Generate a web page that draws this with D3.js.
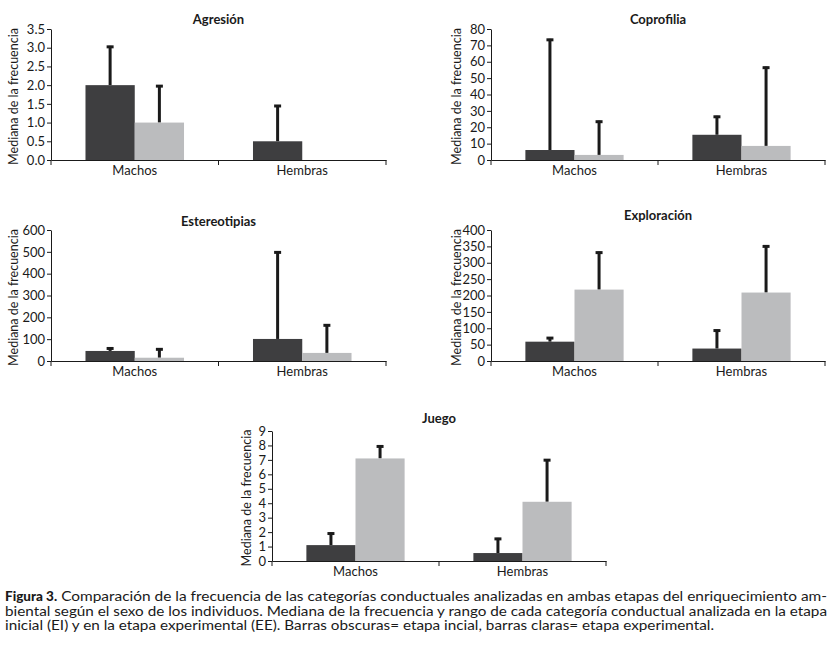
<!DOCTYPE html>
<html><head><meta charset="utf-8">
<script src="https://cdn.jsdelivr.net/npm/d3@7"></script>
<style>
body{margin:0;background:#fff;}
svg text{font-family:Lato,"Open Sans",sans-serif;fill:#1a1a1a;}
</style></head>
<body><svg id="c" width="834" height="649"></svg>
<script>
// ---- data ----
const categories = ["Machos", "Hembras"];
const seriesNames = ["EI", "EE"];
const titles = ["Agresión", "Coprofilia", "Estereotipias", "Exploración", "Juego"];

const agresionEI = [2.0, 0.5];
const agresionEE = [1.0, 0];
const agresionEIMax = [3.05, 1.47];
const agresionEEMax = [2.0, null];
const agresionTicks = [0, 0.5, 1.0, 1.5, 2.0, 2.5, 3.0, 3.5];

const coprofiliaEI = [6.1, 15.4];
const coprofiliaEE = [3.1, 8.6];
const coprofiliaEIMax = [74, 27];
const coprofiliaEEMax = [24, 57];
const coprofiliaTicks = [0, 10, 20, 30, 40, 50, 60, 70, 80];

const estereotipiasEI = [46, 101];
const estereotipiasEE = [15, 37];
const estereotipiasEIMax = [62, 502];
const estereotipiasEEMax = [58, 168];
const estereotipiasTicks = [0, 100, 200, 300, 400, 500, 600];

const exploracionEI = [59, 38];
const exploracionEE = [218, 209];
const exploracionEIMax = [73, 96];
const exploracionEEMax = [334, 353];
const exploracionTicks = [0, 50, 100, 150, 200, 250, 300, 350, 400];

const juegoEI = [1.1, 0.55];
const juegoEE = [7.1, 4.1];
const juegoEIMax = [1.97, 1.6];
const juegoEEMax = [8.0, 7.05];
const juegoTicks = [0, 1, 2, 3, 4, 5, 6, 7, 8, 9];

const yLabel = "Mediana de la frecuencia";
const captionBold = "Figura 3.";
const captionLines = [
  "Comparación de la frecuencia de las categorías conductuales analizadas en ambas etapas del enriquecimiento am-",
  "biental según el sexo de los individuos. Mediana de la frecuencia y rango de cada categoría conductual analizada en la etapa",
  "inicial (EI) y en la etapa experimental (EE). Barras obscuras= etapa incial, barras claras= etapa experimental."
];

// ---- layout / style ----
const colors = {EI: "#3e3e40", EE: "#bbbcbe"};
const panels = [
  {title: titles[0], ei: agresionEI, ee: agresionEE, eiMax: agresionEIMax, eeMax: agresionEEMax, ticks: agresionTicks, fmt: d3.format(".1f"),
   x0: 51, x1: 386, yTop: 29, yBot: 160, titleY: 24, labX: 14},
  {title: titles[1], ei: coprofiliaEI, ee: coprofiliaEE, eiMax: coprofiliaEIMax, eeMax: coprofiliaEEMax, ticks: coprofiliaTicks, fmt: d3.format("d"),
   x0: 491, x1: 825, yTop: 29, yBot: 160, titleY: 24, labX: 457},
  {title: titles[2], ei: estereotipiasEI, ee: estereotipiasEE, eiMax: estereotipiasEIMax, eeMax: estereotipiasEEMax, ticks: estereotipiasTicks, fmt: d3.format("d"),
   x0: 51, x1: 386, yTop: 230, yBot: 361, titleY: 226, labX: 14},
  {title: titles[3], ei: exploracionEI, ee: exploracionEE, eiMax: exploracionEIMax, eeMax: exploracionEEMax, ticks: exploracionTicks, fmt: d3.format("d"),
   x0: 491, x1: 825, yTop: 230, yBot: 361, titleY: 220, labX: 457},
  {title: titles[4], ei: juegoEI, ee: juegoEE, eiMax: juegoEIMax, eeMax: juegoEEMax, ticks: juegoTicks, fmt: d3.format("d"),
   x0: 272, x1: 606, yTop: 431, yBot: 561, titleY: 423, labX: 247}
];

const svg = d3.select("#c");

panels.forEach(p => {
  const g = svg.append("g");
  const x = d3.scaleBand().domain(categories).range([p.x0, p.x1]).paddingInner(0).paddingOuter(0);
  const xs = d3.scaleBand().domain(seriesNames).range([0, x.bandwidth()]).paddingInner(0).paddingOuter(0.7);
  const yMax = p.ticks[p.ticks.length - 1];
  const y = d3.scaleLinear().domain([0, yMax]).range([p.yBot, p.yTop]);

  const rows = [];
  categories.forEach((c, i) => {
    rows.push({cat: c, s: "EI", v: p.ei[i], max: p.eiMax[i]});
    rows.push({cat: c, s: "EE", v: p.ee[i], max: p.eeMax[i]});
  });

  // error bars (behind bars)
  const eb = rows.filter(d => d.max != null && d.v > 0);
  g.selectAll("line.err").data(eb).join("line")
    .attr("x1", d => x(d.cat) + xs(d.s) + xs.bandwidth() / 2)
    .attr("x2", d => x(d.cat) + xs(d.s) + xs.bandwidth() / 2)
    .attr("y1", d => y(d.v))
    .attr("y2", d => y(d.max))
    .attr("stroke", "#1a1a1a").attr("stroke-width", 3);
  g.selectAll("line.cap").data(eb).join("line")
    .attr("x1", d => x(d.cat) + xs(d.s) + xs.bandwidth() / 2 - 3.5)
    .attr("x2", d => x(d.cat) + xs(d.s) + xs.bandwidth() / 2 + 3.5)
    .attr("y1", d => y(d.max) + 1)
    .attr("y2", d => y(d.max) + 1)
    .attr("stroke", "#1a1a1a").attr("stroke-width", 3);

  g.selectAll("rect").data(rows.filter(d => d.v > 0)).join("rect")
    .attr("x", d => x(d.cat) + xs(d.s))
    .attr("width", xs.bandwidth())
    .attr("y", d => y(d.v))
    .attr("height", d => y(0) - y(d.v))
    .attr("fill", d => colors[d.s]);

  // y axis
  const ya = g.append("g").attr("transform", `translate(${p.x0},0)`)
    .call(d3.axisLeft(y).tickValues(p.ticks).tickFormat(p.fmt).tickSize(4).tickSizeOuter(0).tickPadding(2));
  ya.select(".domain").attr("stroke", "#1a1a1a");
  ya.selectAll(".tick line").attr("stroke", "#1a1a1a");
  ya.selectAll("text").style("font-size", "13px").attr("fill", "#1a1a1a");

  // x axis
  const xa = g.append("g").attr("transform", `translate(0,${p.yBot})`)
    .call(d3.axisBottom(x).tickValues([]).tickSizeOuter(0));
  xa.select(".domain").attr("stroke", "#1a1a1a");
  const bounds = [p.x0, (p.x0 + p.x1) / 2, p.x1];
  g.selectAll("line.xt").data(bounds).join("line")
    .attr("x1", d => d).attr("x2", d => d)
    .attr("y1", p.yBot).attr("y2", p.yBot + 5)
    .attr("stroke", "#1a1a1a");
  g.selectAll("text.cat").data(categories).join("text")
    .attr("x", d => x(d) + x.bandwidth() / 2)
    .attr("y", p.yBot + 15)
    .attr("text-anchor", "middle")
    .style("font-size", "13px")
    .text(d => d);

  g.append("text")
    .attr("x", (p.x0 + p.x1) / 2).attr("y", p.titleY)
    .attr("text-anchor", "middle")
    .style("font-size", "13px").style("font-weight", "bold")
    .text(p.title);

  g.append("text")
    .attr("transform", `translate(${p.labX},${(p.yTop + p.yBot) / 2 + 2}) rotate(-90)`)
    .attr("text-anchor", "middle")
    .attr("dy", "0.35em")
    .style("font-size", "12.5px")
    .text(yLabel);
});

// caption
const capY = [601, 615.5, 630];
const capRight = [827, 827, 714];
const capSize = "12.5px";
const bold = svg.append("text")
  .attr("x", 5).attr("y", capY[0])
  .style("font-size", "13.5px").style("font-weight", "900")
  .text(captionBold);
const bw = bold.node().getComputedTextLength();
captionLines.forEach((t, i) => {
  const x0 = i === 0 ? 5 + bw + 4 : 5;
  svg.append("text")
    .attr("x", x0).attr("y", capY[i])
    .style("font-size", capSize)
    .attr("textLength", capRight[i] - x0)
    .attr("lengthAdjust", "spacingAndGlyphs")
    .text(t);
});
</script></body></html>
